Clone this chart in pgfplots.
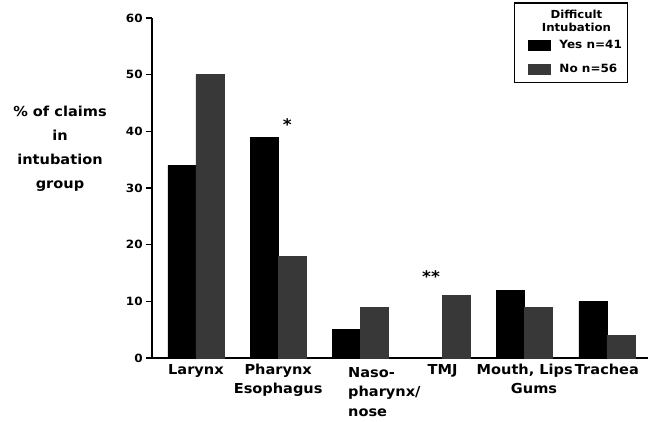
\documentclass[border=0pt]{standalone}
\usepackage{fontspec}
\setmainfont[FakeStretch=1.06]{DejaVu Sans}
\usepackage{pgfplots}
\pgfplotsset{compat=1.18}
\usetikzlibrary{fit}
\begin{document}
\begin{tikzpicture}
\useasboundingbox (-114pt,-47.25pt) rectangle (375pt,268.5pt);
\begin{axis}[
  at={(0pt,0pt)}, anchor=south west,
  scale only axis, width=372pt, height=255pt,
  ybar=0pt, bar width=21pt,
  xmin=-0.535, xmax=5.5, ymin=0, ymax=60,
  axis x line=bottom, axis y line=left,
  axis line style={-, line width=1.3pt},
  ytick={0,10,...,60},
  xtick={0,1,2,3,4,5},
  xticklabels={Larynx, Pharynx\\Esophagus, {\hspace*{36pt}\begin{tabular}[t]{@{}l@{}}Naso-\\pharynx/\\nose\end{tabular}}, TMJ, {Mouth, Lips\\\hspace*{14pt}Gums}, Trachea},
  xtick style={draw=none},
  ytick style={line width=1pt, black},
  tick align=outside, major tick length=4.5pt,
  xticklabel style={align=center, font=\bfseries\fontsize{10.3}{14.5}\selectfont, yshift=3.5pt},
  yticklabel style={font=\bfseries\fontsize{8.5}{10}\selectfont, xshift=1pt},
  /pgf/number format/assume math mode=true,
  clip=false,
  legend style={draw=none, fill=none, at={(axis cs:4.04,56.6)}, anchor=north west,
    inner sep=0pt, row sep=6pt, font=\bfseries\fontsize{8.5}{9}\selectfont, name=leg,
    cells={anchor=west}, /tikz/every odd column/.style={column sep=5pt}},
  legend image code/.code={\fill[#1] (0pt,-3.75pt) rectangle (16pt,3.75pt);},
]
\addplot[fill=black, draw=black] coordinates {(0,34) (1,39) (2,5) (4,12) (5,10)};
\addlegendentry{Yes n=41}
\addplot[fill=black!78, draw=black!78] coordinates {(0,50) (1,18) (2,9) (3,11) (4,9) (5,4)};
\addlegendentry{No n=56}
\node[font=\bfseries\fontsize{12}{12}\selectfont] at (axis cs:1.11,41.2) {*};
\node[font=\bfseries\fontsize{12}{12}\selectfont] at (axis cs:2.86,14.4) {**};
\node[align=center, font=\bfseries\fontsize{10.3}{18}\selectfont] at (rel axis cs:0,0.615) [xshift=-69pt] {\% of claims\\in\\intubation\\group};
\end{axis}
\node[anchor=south, align=center, font=\bfseries\fontsize{8.3}{10}\selectfont, inner sep=1pt] (lt) at ([yshift=3pt]leg.north) {Difficult\\Intubation};
\coordinate (lw) at ([xshift=-8pt]leg.west);
\node[draw, line width=1.2pt, fit=(leg)(lt)(lw), inner xsep=2pt, inner ysep=4pt] {};
\end{tikzpicture}
\end{document}
